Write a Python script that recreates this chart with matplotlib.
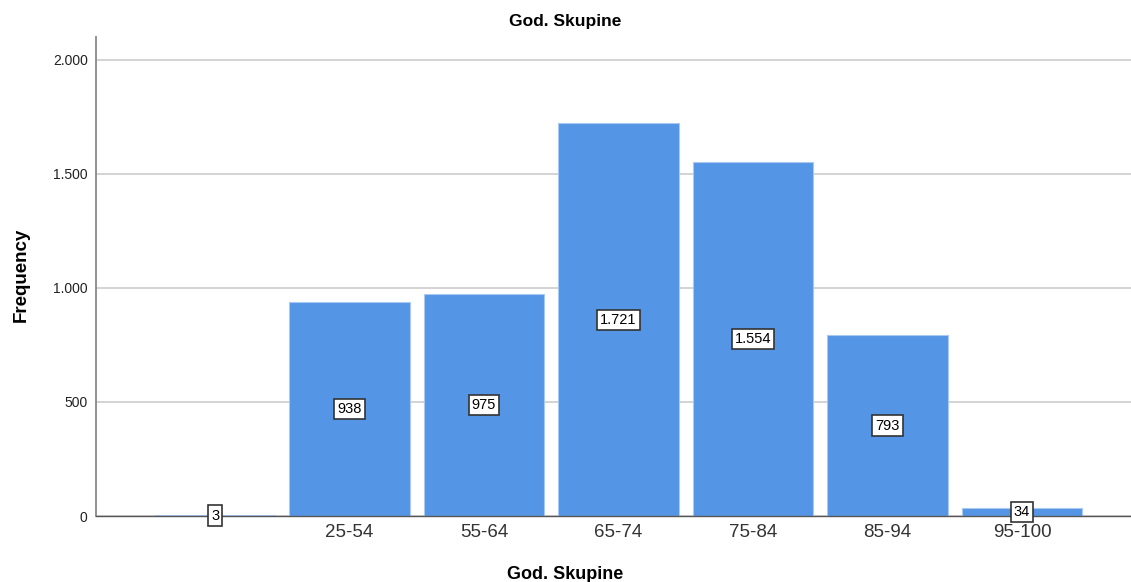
import matplotlib
matplotlib.use("Agg")
from matplotlib import pyplot as plt
from matplotlib.ticker import FuncFormatter

# data
categories = ["", "25-54", "55-64", "65-74", "75-84", "85-94", "95-100"]
counts = [3, 938, 975, 1721, 1554, 793, 34]
y_ticks = [0, 500, 1000, 1500, 2000]

BAR_COLOR = "#5595e5"


def dot_thousands(v, pos=None):
    """Format with '.' as thousands separator"""
    return f"{int(v):,}".replace(",", ".")


def main():
    plt.rcParams['font.family'] = ['Liberation Sans', 'DejaVu Sans']
    fig = plt.figure(figsize=(11.31, 5.82), dpi=100)
    ax = fig.add_axes([0.0849, 0.1134, 0.915, 0.823])

    x = range(len(categories))
    ax.bar(x, counts, width=0.896, color=BAR_COLOR, edgecolor="#a9c9f2", linewidth=0.8, zorder=2)

    for i, v in enumerate(counts):
        ax.text(i, v / 2, dot_thousands(v), ha="center", va="center", fontsize=10.5, zorder=4,
                bbox=dict(boxstyle="square,pad=0.22", facecolor="white", edgecolor="#333333", linewidth=1.2))

    ax.set_xlim(-0.885, 6.81)
    ax.set_ylim(0, 2100)
    ax.set_xticks(list(x))
    ax.set_xticklabels(categories, fontsize=13.5, color="#333333")
    ax.set_yticks(y_ticks)
    ax.yaxis.set_major_formatter(FuncFormatter(dot_thousands))
    ax.tick_params(axis="y", labelsize=10, length=0, pad=6, colors="#222222")
    ax.tick_params(axis="x", length=0, pad=6)

    ax.grid(axis="y", color="#cccccc", linewidth=1.2, zorder=0)
    ax.set_axisbelow(True)
    for side in ["top", "right"]:
        ax.spines[side].set_visible(False)
    ax.spines["left"].set_color("#888888")
    ax.spines["left"].set_linewidth(1.3)
    ax.spines["bottom"].set_color("#555555")
    ax.spines["bottom"].set_linewidth(1.0)

    fig.text(0.5, 0.963, "God. Skupine", ha="center", va="center", fontsize=12.5, fontweight="bold")
    fig.text(0.5, 0.013, "God. Skupine", ha="center", va="center", fontsize=13, fontweight="bold")
    fig.text(0.0185, 0.527, "Frequency", ha="center", va="center", rotation=90, fontsize=13.5, fontweight="bold")

    plt.savefig("out.png", dpi=100)


if __name__ == '__main__':
    main()
